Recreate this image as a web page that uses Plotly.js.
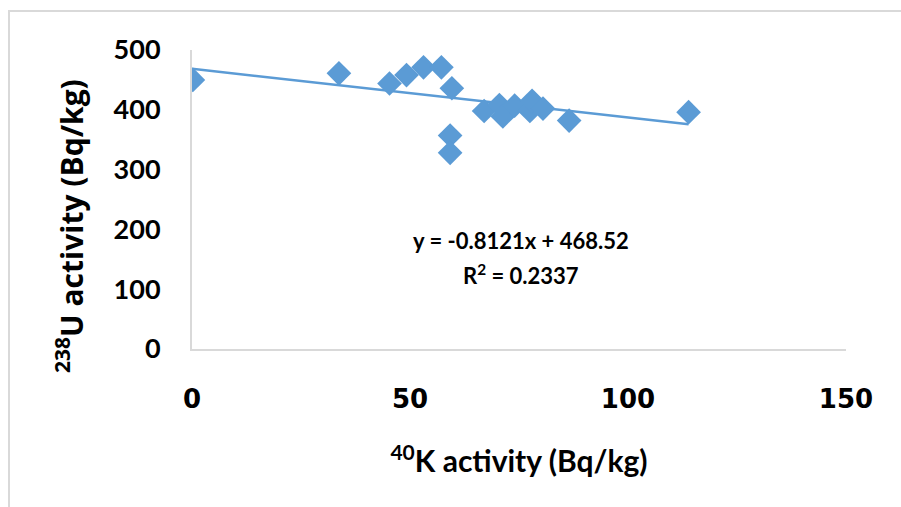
<!DOCTYPE html>
<html>
<head>
<meta charset="utf-8">
<script src="https://cdn.plot.ly/plotly-3.0.1.min.js"></script>
<style>
  html, body { margin: 0; padding: 0; background: #ffffff; }
  #chart { width: 901px; height: 507px; }
</style>
</head>
<body>
<div id="chart"></div>
<script>
// 40K activity (Bq/kg)
const k40 = [0.2, 33.7, 45.3, 49.2, 53.1, 57.2, 59.6, 59.2, 59.2,
             67.0, 70.5, 71.3, 74.0, 77.5, 78.0, 80.5, 86.5, 113.9];
// 238U activity (Bq/kg)
const u238 = [450, 461, 444, 458, 471, 471, 436, 357, 328,
              398, 408, 389, 407, 398, 415, 402, 382, 396];

// Linear trendline as reported on the chart
const trendSlope = -0.8121;
const trendIntercept = 468.52;
const rSquared = 0.2337;

const xTicks = [0, 50, 100, 150];
const yTicks = [0, 100, 200, 300, 400, 500];

const xTitle = '<sup>40</sup>K activity (Bq/kg)';
const yTitle = '<sup>238</sup>U activity (Bq/kg)';

const blue = '#5B9BD5';
const xMax = Math.max(...k40);
const trendX = [0, xMax];
const trendY = trendX.map(v => trendSlope * v + trendIntercept);

const traces = [
  {
    x: trendX, y: trendY, type: 'scatter', mode: 'lines',
    line: { color: blue, width: 2.5 }, hoverinfo: 'skip', showlegend: false
  },
  {
    x: k40, y: u238, type: 'scatter', mode: 'markers',
    marker: { symbol: 'diamond', size: 19, color: blue, line: { width: 0 } },
    showlegend: false
  }
];

const lineGrey = '#d9d9d9';
const layout = {
  width: 901, height: 507,
  margin: { l: 192, r: 55, t: 50, b: 158 },
  paper_bgcolor: '#ffffff', plot_bgcolor: '#ffffff',
  showlegend: false,
  xaxis: {
    range: [0, 150], tickvals: xTicks, ticktext: xTicks.map(String),
    showgrid: false, zeroline: false, showline: true, linecolor: lineGrey, linewidth: 2,
    ticks: '', ticklabelstandoff: 26,
    tickfont: { family: 'DejaVu Sans', size: 26, color: '#000000', weight: 'bold' },
    title: {
      text: xTitle, standoff: 38,
      font: { family: 'Lato', size: 30, color: '#000000', weight: 'bold' }
    }
  },
  yaxis: {
    range: [0, 500], tickvals: yTicks, ticktext: yTicks.map(String),
    showgrid: false, zeroline: false, showline: true, linecolor: lineGrey, linewidth: 2,
    ticks: '', ticklabelstandoff: 24,
    tickfont: { family: 'Lato', size: 27, color: '#000000', weight: 'bold' }
  },
  annotations: [
    {
      x: (70 - 192) / 654, y: (349 - 226) / 299, xref: 'paper', yref: 'paper',
      xanchor: 'center', yanchor: 'middle', textangle: -90, showarrow: false,
      text: yTitle,
      font: { family: 'Open Sans', size: 30, color: '#000000', weight: 'bold' }
    },
    {
      x: 75.5, y: 182, xref: 'x', yref: 'y', showarrow: false,
      text: 'y = ' + trendSlope + 'x + ' + trendIntercept.toFixed(2),
      font: { family: 'Lato', size: 22, color: '#000000', weight: 'bold' }
    },
    {
      x: 75.5, y: 125, xref: 'x', yref: 'y', showarrow: false,
      text: 'R<sup>2</sup> = ' + rSquared,
      font: { family: 'Lato', size: 22, color: '#000000', weight: 'bold' }
    }
  ],
  shapes: [
    {
      type: 'rect', xref: 'paper', yref: 'paper', layer: 'below',
      x0: (9 - 192) / 654, x1: (905 - 192) / 654,
      y0: (349 - 515) / 299, y1: (349 - 11) / 299,
      line: { color: lineGrey, width: 2 }, fillcolor: 'rgba(0,0,0,0)'
    }
  ]
};

Plotly.newPlot('chart', traces, layout, { staticPlot: true, displayModeBar: false });
</script>
</body>
</html>
